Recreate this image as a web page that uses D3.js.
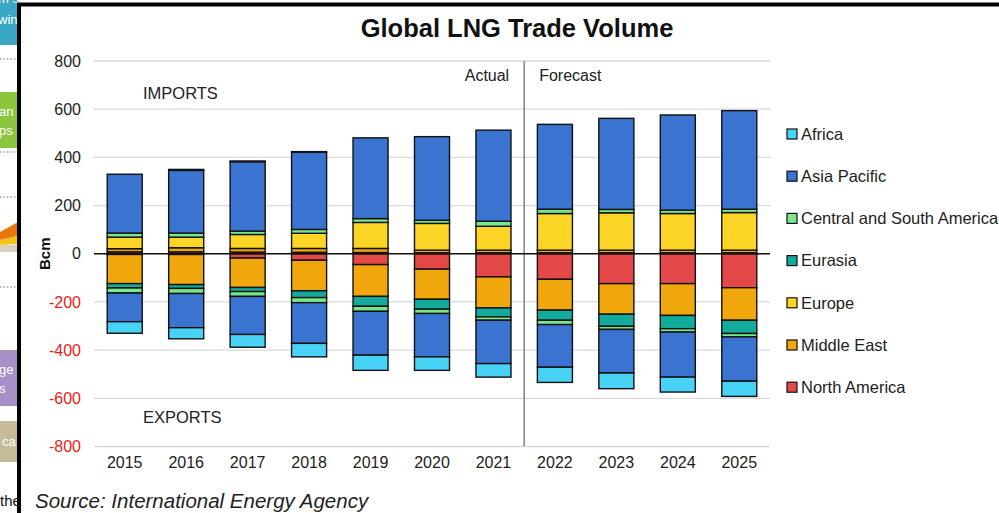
<!DOCTYPE html>
<html>
<head>
<meta charset="utf-8">
<script src="https://cdn.jsdelivr.net/npm/d3@7/dist/d3.min.js"></script>
<style>
  html, body { margin: 0; padding: 0; background: #fff; }
  svg { display: block; font-family: "Liberation Sans", Arial, sans-serif; }
</style>
</head>
<body>
<svg id="chart" width="999" height="513"></svg>
<script>
// Years on the category axis
const years = ["2015","2016","2017","2018","2019","2020","2021","2022","2023","2024","2025"];
const yTicks = [800, 600, 400, 200, 0, -200, -400, -600, -800];

// LNG imports by region (bcm)
const northAmericaImports = [8, 8, 7, 6, 5, 4, 4, 4, 4, 4, 4];
const middleEastImports   = [13, 17, 15, 16, 17, 11, 11, 11, 11, 11, 11];
const europeImports       = [48, 44, 58, 63, 108, 111, 99, 152, 155, 152, 156];
const eurasiaImports      = [0, 0, 0, 0, 0, 0, 0, 0, 0, 0, 0];
const csAmericaImports    = [17, 17, 14, 16, 16, 13, 21, 18, 14, 14, 14];
const asiaPacificImports  = [244, 260, 288, 320, 335, 347, 378, 352, 378, 395, 409];
const africaImports       = [0, 4, 3, 3, 0, 0, 0, 0, 0, 0, 0];

// LNG exports by region (bcm)
const northAmericaExports = [3, 3, 18, 27, 45, 64, 96, 106, 124, 124, 141];
const middleEastExports   = [121, 125, 122, 127, 132, 125, 129, 128, 127, 132, 135];
const europeExports       = [0, 0, 0, 0, 0, 0, 0, 0, 0, 0, 0];
const eurasiaExports      = [18, 16, 17, 28, 41, 41, 37, 42, 50, 55, 55];
const csAmericaExports    = [21, 21, 20, 21, 21, 18, 14, 18, 13, 14, 14];
const asiaPacificExports  = [119, 142, 158, 169, 182, 180, 180, 177, 181, 187, 184];
const africaExports       = [48, 46, 53, 56, 63, 56, 56, 63, 65, 62, 63];

// Region order as listed in the legend
const legendRegions = ["Africa", "Asia Pacific", "Central and South America", "Eurasia", "Europe", "Middle East", "North America"];
const regionColors  = ["#48d2f6", "#3b73d0", "#78e88c", "#13ab9c", "#fcd526", "#f0a70c", "#e54848"];

// Stacking order outward from the zero line
const stackOrder = ["North America", "Middle East", "Europe", "Eurasia", "Central and South America", "Asia Pacific", "Africa"];
const importsByRegion = {
  "North America": northAmericaImports, "Middle East": middleEastImports, "Europe": europeImports,
  "Eurasia": eurasiaImports, "Central and South America": csAmericaImports,
  "Asia Pacific": asiaPacificImports, "Africa": africaImports
};
const exportsByRegion = {
  "North America": northAmericaExports, "Middle East": middleEastExports, "Europe": europeExports,
  "Eurasia": eurasiaExports, "Central and South America": csAmericaExports,
  "Asia Pacific": asiaPacificExports, "Africa": africaExports
};

const importRows = years.map((y, i) => {
  const r = { year: y };
  stackOrder.forEach(k => r[k] = importsByRegion[k][i]);
  return r;
});
const exportRows = years.map((y, i) => {
  const r = { year: y };
  stackOrder.forEach(k => r[k] = -exportsByRegion[k][i]);
  return r;
});

const color = d3.scaleOrdinal().domain(legendRegions).range(regionColors);

const svg = d3.select("#chart");
svg.append("rect").attr("width", 999).attr("height", 513).attr("fill", "#fff");

// ---- neighbouring page content peeking in at the left edge ----
const side = svg.append("g");
side.append("rect").attr("x", 0).attr("y", -5).attr("width", 18).attr("height", 50).attr("fill", "#3aa7c7");
side.append("text").attr("x", -2).attr("y", 3).attr("fill", "#fff").attr("font-size", 13).text("m solar PV");
side.append("text").attr("x", -2).attr("y", 24).attr("fill", "#fff").attr("font-size", 13).text("win");
[59, 152, 197, 287].forEach(yy => {
  side.append("line").attr("x1", 0).attr("x2", 18).attr("y1", yy).attr("y2", yy)
    .attr("stroke", "#777").attr("stroke-width", 1.2).attr("stroke-dasharray", "1.5,2");
});
side.append("rect").attr("x", 0).attr("y", 92).attr("width", 18).attr("height", 56).attr("fill", "#8cc63f");
side.append("text").attr("x", -1).attr("y", 116).attr("fill", "#fff").attr("font-size", 13).text("an");
side.append("text").attr("x", -1).attr("y", 135).attr("fill", "#fff").attr("font-size", 13).text("ps");
side.append("path").attr("d", "M0,232 L18,222 L18,236 L0,240 Z").attr("fill", "#e8780e");
side.append("path").attr("d", "M0,240 L18,236 L18,244 L0,245 Z").attr("fill", "#f6c416");
side.append("rect").attr("x", 0).attr("y", 245).attr("width", 18).attr("height", 7).attr("fill", "#d8d2c0");
side.append("rect").attr("x", 0).attr("y", 350).attr("width", 18).attr("height", 56).attr("fill", "#a690c8");
side.append("text").attr("x", -1).attr("y", 374).attr("fill", "#fff").attr("font-size", 13).text("ge");
side.append("text").attr("x", -1).attr("y", 393).attr("fill", "#fff").attr("font-size", 13).text("s");
side.append("rect").attr("x", 0).attr("y", 421).attr("width", 18).attr("height", 41).attr("fill", "#c6bb98");
side.append("text").attr("x", 2).attr("y", 446).attr("fill", "#fff").attr("font-size", 13).text("ca");
side.append("text").attr("x", 0).attr("y", 506).attr("fill", "#111").attr("font-size", 15).text("the");

// ---- chart panel ----
svg.append("rect").attr("x", 19).attr("y", 4.5).attr("width", 1000).attr("height", 520)
  .attr("fill", "#fff").attr("stroke", "#000").attr("stroke-width", 4);

const x = d3.scaleBand().domain(years).range([94, 770]).paddingInner(0.43).paddingOuter(0.215);
const y = d3.scaleLinear().domain([-800, 800]).range([446.5, 61]);

// gridlines
svg.append("g").selectAll("line").data(yTicks.filter(t => t !== 0)).join("line")
  .attr("x1", 94).attr("x2", 770)
  .attr("y1", d => y(d)).attr("y2", d => y(d))
  .attr("stroke", "#d9d9d9").attr("stroke-width", 1.3);

// y tick labels
svg.append("g").selectAll("text").data(yTicks).join("text")
  .attr("x", 81).attr("y", d => y(d)).attr("dy", "0.35em")
  .attr("text-anchor", "end").attr("font-size", 16)
  .attr("fill", d => d < 0 ? "#e8211b" : "#222")
  .text(d => d);

// divider between actual and forecast years
const step = x.step();
const dividerX = x("2022") - x.paddingInner() * step / 2;
svg.append("line").attr("x1", dividerX).attr("x2", dividerX)
  .attr("y1", y(800)).attr("y2", y(-800))
  .attr("stroke", "#8a8a8a").attr("stroke-width", 1.6);

// stacked bars
const importStack = d3.stack().keys(stackOrder)(importRows);
const exportStack = d3.stack().keys(stackOrder).offset(d3.stackOffsetDiverging)(exportRows);

function drawStack(series) {
  svg.append("g").selectAll("g").data(series).join("g")
    .attr("fill", d => color(d.key))
    .selectAll("rect").data(d => d.filter(s => s[1] !== s[0])).join("rect")
    .attr("x", d => x(d.data.year))
    .attr("width", x.bandwidth())
    .attr("y", d => y(Math.max(d[0], d[1])))
    .attr("height", d => Math.abs(y(d[0]) - y(d[1])))
    .attr("stroke", "#111").attr("stroke-width", 1.4);
}
drawStack(importStack);
drawStack(exportStack);

// zero line
svg.append("line").attr("x1", 94).attr("x2", 770).attr("y1", y(0)).attr("y2", y(0))
  .attr("stroke", "#111").attr("stroke-width", 1.4);

// x axis labels
svg.append("g").selectAll("text").data(years).join("text")
  .attr("x", d => x(d) + x.bandwidth() / 2).attr("y", 462).attr("dy", "0.35em")
  .attr("text-anchor", "middle").attr("font-size", 16).attr("fill", "#222")
  .text(d => d);

// annotations
svg.append("text").attr("x", 143).attr("y", 93).attr("dy", "0.35em").attr("font-size", 16.5).attr("fill", "#222").text("IMPORTS");
svg.append("text").attr("x", 143).attr("y", 417).attr("dy", "0.35em").attr("font-size", 16.5).attr("fill", "#222").text("EXPORTS");
svg.append("text").attr("x", dividerX - 15).attr("y", 75).attr("dy", "0.35em").attr("text-anchor", "end").attr("font-size", 16).attr("fill", "#222").text("Actual");
svg.append("text").attr("x", dividerX + 15).attr("y", 75).attr("dy", "0.35em").attr("font-size", 16).attr("fill", "#222").text("Forecast");

// title
svg.append("text").attr("x", 517).attr("y", 28).attr("dy", "0.35em").attr("text-anchor", "middle")
  .attr("font-size", 25.5).attr("font-weight", "bold").attr("fill", "#111").text("Global LNG Trade Volume");

// y axis title
svg.append("text").attr("transform", `translate(45,${y(0)}) rotate(-90)`).attr("dy", "0.35em")
  .attr("text-anchor", "middle").attr("font-size", 15).attr("font-weight", "bold").attr("fill", "#111").text("Bcm");

// legend
const legend = svg.append("g").selectAll("g").data(legendRegions).join("g")
  .attr("transform", (d, i) => `translate(787,${134 + i * 42.2})`);
legend.append("rect").attr("x", 0).attr("y", -5).attr("width", 10).attr("height", 10)
  .attr("fill", d => color(d)).attr("stroke", "#111").attr("stroke-width", 1.2);
legend.append("text").attr("x", 14).attr("dy", "0.35em").attr("font-size", 16.5).attr("fill", "#222").text(d => d);

// source note
svg.append("text").attr("x", 35).attr("y", 501).attr("dy", "0.35em").attr("font-size", 20.5)
  .attr("font-style", "italic").attr("fill", "#222").text("Source: International Energy Agency");
</script>
</body>
</html>
